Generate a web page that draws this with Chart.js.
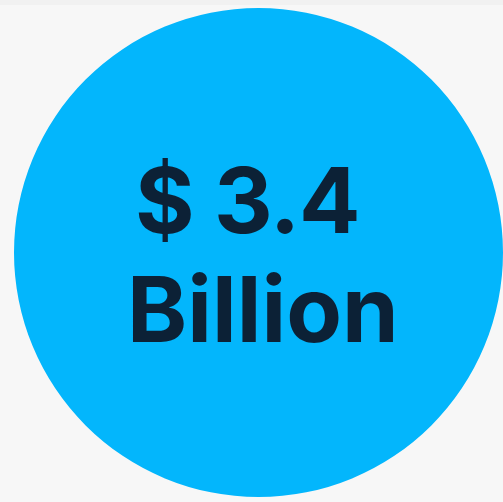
<!DOCTYPE html>
<html>
<head>
<meta charset="utf-8">
<script src="https://cdn.jsdelivr.net/npm/chart.js@4"></script>
<style>
  html, body { margin: 0; padding: 0; }
  body { width: 503px; height: 502px; overflow: hidden;
         background: linear-gradient(#f1f1f1 0, #f1f1f1 5px, #f7f7f7 5px); }
  #wrap { width: 503px; height: 502px; position: relative; }
</style>
</head>
<body>
<div id="wrap"><canvas id="grafico"></canvas></div>
<script>
const rotulos = ['Total'];
const valores = [3.4];
const linhasTexto = ['$ 3.4', 'Billion'];
const corCirculo = '#03b6fc';
const corTexto = '#0c2136';

// posicao da tinta de cada linha: [esquerda, direita, linha de base]
const caixasTexto = [[138, 357, 233], [132, 393, 342]];

function escreverAjustado(c, texto, caixa) {
    c.letterSpacing = '0px';
    let m = c.measureText(texto);
    const largura = m.actualBoundingBoxLeft + m.actualBoundingBoxRight;
    const esp = (caixa[1] - caixa[0] - largura) / (texto.length - 1);
    c.letterSpacing = esp + 'px';
    m = c.measureText(texto);
    c.fillText(texto, caixa[0] + m.actualBoundingBoxLeft, caixa[2]);
}

const textoCentro = {
    id: 'textoCentro',
    afterDraw(chart) {
        const c = chart.ctx;
        c.save();
        c.fillStyle = corTexto;
        c.font = 'bold 91px Inter';
        c.textAlign = 'left';
        c.textBaseline = 'alphabetic';
        linhasTexto.forEach((t, i) => escreverAjustado(c, t, caixasTexto[i]));
        c.restore();
    }
};

new Chart(document.getElementById('grafico'), {
    type: 'pie',
    data: {
        labels: rotulos,
        datasets: [{
            data: valores,
            backgroundColor: [corCirculo],
            borderWidth: 0
        }]
    },
    options: {
        responsive: true,
        maintainAspectRatio: false,
        animation: false,
        layout: { padding: { left: 14, right: 0, top: 6, bottom: 3 } },
        plugins: {
            legend: { display: false },
            tooltip: { enabled: false }
        }
    },
    plugins: [textoCentro]
});
</script>
</body>
</html>
